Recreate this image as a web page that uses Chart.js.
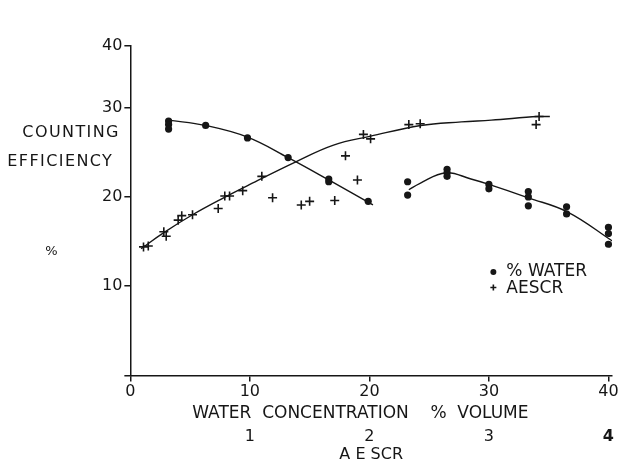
<!DOCTYPE html>
<html>
<head>
<meta charset="utf-8">
<script src="https://cdn.jsdelivr.net/npm/chart.js@4.4.0/dist/chart.umd.min.js"></script>
<style>
  html, body { margin: 0; padding: 0; background: #fff; }
  #wrap { width: 622px; height: 464px; }
</style>
</head>
<body>
<div id="wrap"><canvas id="c" width="622" height="464"></canvas></div>
<script>
// Measured counting efficiency (%) against water concentration (% volume)
const waterX = [3.2, 3.2, 3.2, 6.3, 9.8, 13.2, 16.6, 16.6, 19.9, 23.2, 23.2, 26.5, 26.5, 26.5,
                30.0, 30.0, 33.3, 33.3, 33.3, 36.5, 36.5, 40.0, 40.0, 40.0];
const waterY = [28.5, 28.1, 27.6, 28.0, 26.6, 24.4, 22.0, 21.7, 19.5, 21.7, 20.2, 23.1, 22.7, 22.3,
                21.4, 20.9, 20.6, 20.0, 19.0, 18.9, 18.1, 16.6, 15.9, 14.7];

// Counting efficiency (%) against AESCR concentration (plotted on the same x axis, 10 units = 1)
const aescrX = [1.1, 1.5, 2.8, 3.0, 4.0, 4.3, 5.2, 7.35, 7.9, 8.3, 9.4, 11.0, 11.9, 14.3, 15.0,
                17.1, 18.0, 19.0, 19.5, 20.1, 23.3, 24.25, 33.95, 34.2];
const aescrY = [14.4, 14.5, 16.1, 15.6, 17.4, 17.9, 18.0, 18.7, 20.1, 20.1, 20.7, 22.3, 19.9, 19.1, 19.5,
                19.6, 24.6, 21.9, 27.0, 26.5, 28.1, 28.2, 28.1, 29.0];

// Hand-fitted curves
const waterFitAX = [3.2, 6.3, 9.8, 13.2, 16.6, 20.3];
const waterFitAY = [28.6, 28.0, 26.7, 24.4, 21.9, 19.1];
const waterFitBX = [23.3, 24.2, 26.4, 28.5, 30.0, 33.3, 36.6, 40.4];
const waterFitBY = [20.8, 21.5, 22.7, 22.0, 21.4, 19.9, 18.3, 15.0];
const aescrFitX  = [0.9, 2.8, 5.2, 7.8, 10.0, 13.8, 17.0, 20.1, 24.3, 27.7, 30.2, 34.1, 35.1];
const aescrFitY  = [14.2, 16.0, 18.0, 19.9, 21.4, 23.9, 25.8, 26.8, 28.0, 28.4, 28.6, 29.0, 29.0];

// Tick values
const xTicks = [0, 10, 20, 30, 40];
const aescrTicks = [1, 2, 3, 4];
const yTicks = [0, 10, 20, 30, 40];
// The vertical axis stops short of 40; its end tick carries the "40" label.
const yTop = 36.9;

const INK = '#161616';
const FONT = '"DejaVu Sans", sans-serif';

const pts = (xs, ys) => xs.map((x, i) => ({ x, y: ys[i] }));

const curve = (xs, ys) => ({
  data: pts(xs, ys),
  showLine: true,
  pointRadius: 0,
  borderColor: INK,
  borderWidth: 1.4,
  tension: 0.4,
  fill: false
});

// Side labels for the vertical axis and the in-plot key
const annotations = {
  id: 'annotations',
  afterDraw(chart) {
    const { ctx, chartArea, scales } = chart;
    const L = chartArea.left;
    ctx.save();
    ctx.fillStyle = INK;
    ctx.textBaseline = 'middle';
    ctx.textAlign = 'left';
    ctx.font = '16px ' + FONT;
    ctx.letterSpacing = '1.4px';
    ctx.fillText('COUNTING', L - 108, scales.y.getPixelForValue(27.2));
    ctx.fillText('EFFICIENCY', L - 123, scales.y.getPixelForValue(23.9));
    ctx.letterSpacing = '0px';
    ctx.font = '13px ' + FONT;
    ctx.fillText('%', L - 85, scales.y.getPixelForValue(13.9));

    // key
    const kx = L + 363;
    const y1 = scales.y.getPixelForValue(11.6);
    const y2 = scales.y.getPixelForValue(9.85);
    ctx.beginPath();
    ctx.arc(kx, y1, 3, 0, Math.PI * 2);
    ctx.fill();
    ctx.strokeStyle = INK;
    ctx.lineWidth = 1.6;
    ctx.beginPath();
    ctx.moveTo(kx - 3, y2); ctx.lineTo(kx + 3, y2);
    ctx.moveTo(kx, y2 - 3); ctx.lineTo(kx, y2 + 3);
    ctx.stroke();
    ctx.font = '17px ' + FONT;
    ctx.fillText('% WATER', kx + 13, y1);
    ctx.fillText('AESCR', kx + 13, y2 + 1);
    ctx.restore();
  }
};

new Chart(document.getElementById('c'), {
  type: 'scatter',
  data: {
    datasets: [
      {
        data: pts(waterX, waterY),
        pointStyle: 'circle',
        pointRadius: 3.6,
        pointBackgroundColor: INK,
        pointBorderColor: INK,
        pointBorderWidth: 0
      },
      {
        data: pts(aescrX, aescrY),
        pointStyle: 'cross',
        pointRadius: 4.5,
        pointBorderColor: INK,
        pointBorderWidth: 1.6
      },
      curve(waterFitAX, waterFitAY),
      curve(waterFitBX, waterFitBY),
      curve(aescrFitX, aescrFitY)
    ]
  },
  options: {
    responsive: false,
    animation: false,
    devicePixelRatio: 1,
    layout: { padding: { left: 100, top: 46, right: 10, bottom: 5.5 } },
    plugins: {
      legend: { display: false },
      tooltip: { enabled: false }
    },
    scales: {
      x: {
        type: 'linear',
        position: 'bottom',
        weight: 0,
        min: 0,
        max: 40.3,
        afterBuildTicks: (ax) => { ax.ticks = xTicks.map(v => ({ value: v })); },
        grid: { drawOnChartArea: false, drawTicks: true, tickLength: 6, color: INK, lineWidth: 1.5 },
        border: { display: true, color: INK, width: 1.5 },
        ticks: {
          color: INK,
          font: { family: FONT, size: 16, lineHeight: 1 },
          padding: 2,
          maxRotation: 0,
          callback: (v) => String(v)
        },
        title: {
          display: true,
          text: 'WATER  CONCENTRATION    %  VOLUME    ',
          color: INK,
          font: { family: FONT, size: 17, lineHeight: 1 },
          padding: { top: 4, bottom: 0 }
        }
      },
      x2: {
        type: 'linear',
        position: 'bottom',
        weight: 1,
        min: 0,
        max: 4.03,
        afterBuildTicks: (ax) => { ax.ticks = aescrTicks.map(v => ({ value: v })); },
        grid: { display: false, drawTicks: false, tickLength: 0 },
        border: { display: false },
        ticks: {
          color: INK,
          padding: 6,
          maxRotation: 0,
          font: (c) => ({ family: FONT, size: 16, lineHeight: 1,
                          weight: c.tick && c.tick.value === 4 ? 'bold' : 'normal' }),
          callback: (v) => String(v)
        },
        title: {
          display: true,
          text: 'A E SCR',
          color: INK,
          font: { family: FONT, size: 16, lineHeight: 0.5 },
          padding: { top: 0, bottom: 0 }
        }
      },
      y: {
        type: 'linear',
        min: 0,
        max: yTop,
        afterBuildTicks: (ax) => { ax.ticks = yTicks.map(v => ({ value: Math.min(v, yTop) })); },
        grid: { drawOnChartArea: false, drawTicks: true, tickLength: 6, color: INK, lineWidth: 1.5 },
        border: { display: true, color: INK, width: 1.5 },
        ticks: {
          color: INK,
          font: { family: FONT, size: 16, lineHeight: 1 },
          padding: 2,
          callback: (v, i) => (yTicks[i] === 0 ? '' : String(yTicks[i]))
        }
      }
    }
  },
  plugins: [annotations]
});
</script>
</body>
</html>
